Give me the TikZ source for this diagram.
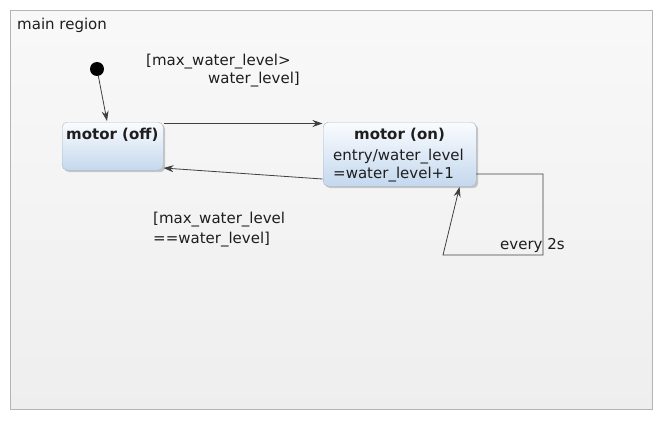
\documentclass[tikz,border=0pt]{standalone}
\usepackage{fontspec}
\setmainfont{DejaVu Sans}
\usetikzlibrary{arrows.meta,shadows}
\definecolor{regionfill}{HTML}{F4F4F4}
\definecolor{regionline}{HTML}{B4B4B4}
\definecolor{boxline}{HTML}{A8B8C8}
\definecolor{boxtop}{HTML}{FAFCFE}
\definecolor{boxbot}{HTML}{C4D8EE}
\definecolor{ink}{HTML}{1E1E1E}
\definecolor{wire}{HTML}{404040}
\tikzset{
  statebox/.style={draw=boxline, rounded corners=5pt, top color=boxtop, bottom color=boxbot,
    drop shadow={shadow xshift=2pt, shadow yshift=-2pt, opacity=0.4, fill=gray}},
  wireline/.style={draw=wire, line width=0.8pt, -{Stealth[length=10pt,width=7pt]}},
  lbl/.style={text=ink, font=\fontsize{15}{17}\selectfont, inner sep=0pt},
  blbl/.style={text=ink, font=\fontsize{15}{17}\selectfont\bfseries, inner sep=0pt},
}
\begin{document}
\begin{tikzpicture}[x=1pt,y=-1pt]
\useasboundingbox (0,0) rectangle (663,420);
\fill[white] (0,0) rectangle (663,420);
\node[draw=regionline, line width=1pt, top color=white!40!regionfill, bottom color=regionfill!95!gray, minimum width=642pt, minimum height=399pt, anchor=north west, inner sep=0pt] (region) at (10,10) {};
\node[lbl, anchor=west] (rlabel) at (17,25) {main region};

\node[fill=black, circle, minimum size=14pt, inner sep=0pt] (init) at (97,69) {};

\node[statebox, minimum width=101pt, minimum height=48pt, anchor=north west, inner sep=0pt] (off) at (62,122) {};
\node[blbl, anchor=west] (offt) at (66,135) {motor (off)};

\node[statebox, minimum width=153pt, minimum height=64pt, anchor=north west, inner sep=0pt] (on) at (323,122) {};
\node[blbl] (ont) at (399.5,135) {motor (on)};
\node[lbl, anchor=west] (onent) at (333,157) {entry/water\_level};
\node[lbl, anchor=west] (onexp) at (333,175) {=water\_level+1};

\coordinate (offR1) at (163.5,123.5);
\coordinate (onL1) at (322.5,123.5);
\coordinate (onL2) at (322.5,179);
\coordinate (offR2) at (163.5,168);
\coordinate (offT) at (107,121);
\coordinate (onR) at (476,174);
\coordinate (c1) at (543,174);
\coordinate (c2) at (543,255);
\coordinate (c3) at (443,255);
\coordinate (onB) at (459.5,187);

\draw[wireline] (init) -- (offT);
\draw[wireline] (offR1) -- (onL1);
\draw[wireline] (onL2) -- (offR2);
\draw[wireline] (onR) -- (c1) -- (c2) -- (c3) -- (onB);

\node[lbl, anchor=west] (g1a) at (146,62) {[max\_water\_level>};
\node[lbl, anchor=east] (g1b) at (300,80) {water\_level]};
\node[lbl, anchor=west] (g2a) at (153,220) {[max\_water\_level};
\node[lbl, anchor=west] (g2b) at (153,240) {==water\_level]};
\node[lbl, anchor=west] (ev) at (500,245) {every 2s};
\end{tikzpicture}
\end{document}
